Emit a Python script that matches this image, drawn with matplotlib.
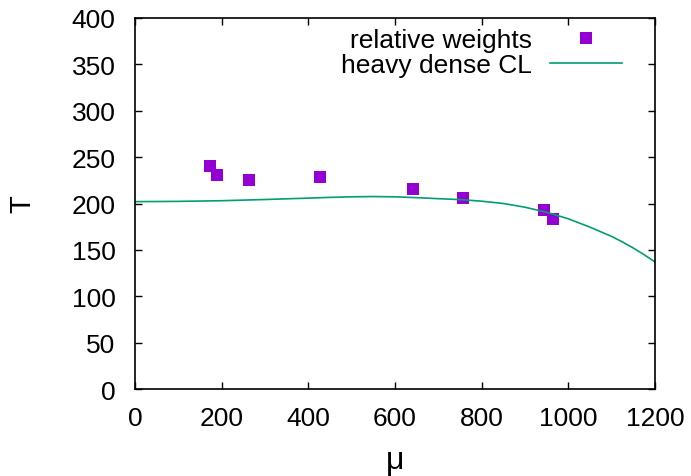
import matplotlib
matplotlib.use("Agg")
import matplotlib.pyplot as plt

plt.rcParams['font.family'] = ['Liberation Sans', 'DejaVu Sans']

# relative weights data
mu_pts = [173, 190, 264, 428, 642, 757, 943, 964]
T_pts = [240.5, 231, 225.6, 228.8, 216, 205.6, 192.5, 183]

# heavy dense CL curve
mu_line = [0, 100, 200, 300, 400, 450, 500, 550, 600, 650, 700, 750, 800,
           850, 900, 950, 1000, 1050, 1100, 1125, 1150, 1175, 1200]
T_line = [202, 202.3, 203, 204.3, 205.8, 206.6, 207.2, 207.5, 207.2, 206.3,
          205.2, 204.2, 202.5, 200, 196, 190.5, 183.5, 174.5, 164.5, 158.5,
          152, 144.8, 137]

xticks = [0, 200, 400, 600, 800, 1000, 1200]
yticks = [0, 50, 100, 150, 200, 250, 300, 350, 400]

W, H = 691, 477
L, R, TOP, BOT = 135, 655, 19, 390

fig = plt.figure(figsize=(W/100, H/100), dpi=100)
ax = fig.add_axes([L/W, 1 - BOT/H, (R-L)/W, (BOT-TOP)/H])

ax.plot(mu_pts, T_pts, linestyle='none', marker='s', markersize=9.2,
        markeredgewidth=0, color='#9400d3', label='relative weights')
ax.plot(mu_line, T_line, color='#009e73', linewidth=1.2, label='heavy dense CL')

ax.set_xlim(0, 1200)
ax.set_ylim(0, 400)
ax.set_xticks(xticks)
ax.set_yticks(yticks)
ax.tick_params(direction='in', length=5, width=1, top=True, right=True,
               labelsize=19)
ax.tick_params(axis='x', pad=12)
ax.tick_params(axis='y', pad=14)
for s in ax.spines.values():
    s.set_linewidth(1.2)

ax.set_xlabel('μ', fontsize=23, labelpad=11)
ax.set_ylabel('T', fontsize=21, labelpad=25)

leg = ax.legend(markerfirst=False, frameon=False, loc='upper right',
                bbox_to_anchor=((622-L)/(R-L), 1 - 10/(BOT-TOP)), borderaxespad=0,
                fontsize=19, handlelength=2.73, handletextpad=0.68,
                labelspacing=0.05, borderpad=0)

fig.savefig('out.png', dpi=100)
